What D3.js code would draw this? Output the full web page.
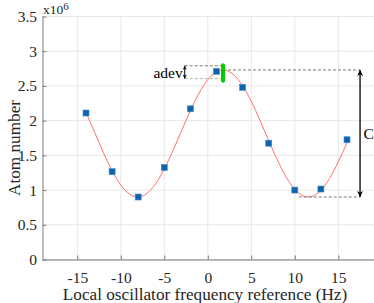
<!DOCTYPE html>
<html><head><meta charset="utf-8">
<script src="https://cdn.jsdelivr.net/npm/d3@7"></script>
<style>
body{margin:0;background:#fff;}
svg{display:block;font-family:"Liberation Serif","Times New Roman",serif;}
</style></head>
<body><svg id="c" width="374" height="303"></svg>
<script>
// measured points (Hz, atom number in units of 1e6)
const freqs = [-14, -11, -8, -5, -2, 1, 4, 7, 10, 13, 16];
const atoms = [2.11, 1.265, 0.90, 1.325, 2.17, 2.71, 2.48, 1.675, 1.0, 1.015, 1.725];
// fitted fringe curve
const fitX = [-14,-13,-12,-11,-10,-9,-8,-7,-6,-5,-4,-3,-2,-1,0,1,1.75,2,3,4,5,6,7,8,9,10,11,11.6,12,13,14,15,16];
const fitY = [2.118,1.830,1.540,1.280,1.073,0.942,0.900,0.951,1.090,1.303,1.569,1.859,2.145,2.397,2.590,2.704,2.730,2.727,2.658,2.502,2.277,2.004,1.712,1.432,1.189,1.011,0.914,0.900,0.909,0.996,1.168,1.407,1.683];
const xTicks = [-15, -10, -5, 0, 5, 10, 15];
const yTicks = [0, 0.5, 1, 1.5, 2, 2.5, 3, 3.5];
// annotations (data coordinates)
const peakX = 1.75, peakY = 2.73, adevHi = 2.79, adevLo = 2.605, adevArrowX = -2.65;
const troughX = 10.45, troughY = 0.90, cArrowX = 17.5;

const svg = d3.select("#c");
const x = d3.scaleLinear().domain([-19, 19]).range([42.5, 373.1]);
const y = d3.scaleLinear().domain([0, 3.5]).range([259.5, 16.5]);
const L = 42.5, R = 374, T = 16.5, B = 259.5;
const FS = 15.5, LFS = 17.2;

// grid
svg.append("g").selectAll("line").data(xTicks).join("line")
  .attr("x1", d => x(d)).attr("x2", d => x(d)).attr("y1", T).attr("y2", B)
  .attr("stroke", "#e8e8e8").attr("stroke-width", 1);
svg.append("g").selectAll("line").data(yTicks).join("line")
  .attr("x1", L).attr("x2", R).attr("y1", d => y(d)).attr("y2", d => y(d))
  .attr("stroke", "#e8e8e8").attr("stroke-width", 1);

// axes
const xAxis = d3.axisBottom(x).tickValues(xTicks).tickSizeInner(-4).tickSizeOuter(0).tickPadding(12.5)
  .tickFormat(d => d < 0 ? "-" + Math.abs(d) : d);
const gx = svg.append("g").attr("transform", `translate(0,${B})`).call(xAxis);
const yAxis = d3.axisLeft(y).tickValues(yTicks).tickSizeInner(-4).tickSizeOuter(0).tickPadding(5.5)
  .tickFormat(d => d);
const gy = svg.append("g").attr("transform", `translate(${L},0)`).call(yAxis);
[gx, gy].forEach(g => {
  g.select(".domain").attr("stroke", "#7a7a7a");
  g.selectAll(".tick line").attr("stroke", "#7a7a7a");
  g.selectAll("text").attr("font-family", "Liberation Serif, serif").attr("font-size", FS).attr("fill", "#262626");
});
gx.select(".domain").attr("d", `M${L},0.5H${R}`);
gy.select(".domain").attr("d", `M0.5,${B}V${T}`);

// exponent label
const ex = svg.append("text").attr("x", L + 0.5).attr("y", 13.5).attr("font-size", 13.5).attr("fill", "#262626");
ex.append("tspan").text("x10");
ex.append("tspan").attr("dy", -4).attr("font-size", 11).text("6");

// axis labels
svg.append("text").attr("x", 205).attr("y", 299.5).attr("text-anchor", "middle")
  .attr("font-size", LFS).attr("fill", "#262626").text("Local oscillator frequency reference (Hz)");
svg.append("text").attr("transform", "translate(19.5,148) rotate(-90)").attr("text-anchor", "middle")
  .attr("font-size", LFS).attr("fill", "#262626").text("Atom number");

// fit curve
const pts = fitX.map((d, i) => [d, fitY[i]]);
svg.append("path").datum(pts)
  .attr("d", d3.line().x(d => x(d[0])).y(d => y(d[1])).curve(d3.curveMonotoneX))
  .attr("fill", "none").attr("stroke", "#ff6f6f").attr("stroke-width", 1);

// dashed guides
const dash = (x1, y1, x2, y2, col) => svg.append("line")
  .attr("x1", x(x1)).attr("y1", y(y1)).attr("x2", x(x2)).attr("y2", y(y2))
  .attr("stroke", col).attr("stroke-width", 1).attr("stroke-dasharray", "3,2");
dash(adevArrowX, adevHi, peakX, adevHi, "#7a7a7a");
dash(adevArrowX, adevLo, peakX, adevLo, "#b0b0b0");
dash(peakX, peakY, cArrowX, peakY, "#7a7a7a");
dash(troughX, troughY, cArrowX, troughY, "#7a7a7a");

// arrows
const defs = svg.append("defs");
const mk = (id, w, h) => defs.append("marker").attr("id", id).attr("viewBox", "0 0 10 10")
  .attr("refX", 10).attr("refY", 5).attr("markerWidth", w).attr("markerHeight", h)
  .attr("markerUnits", "userSpaceOnUse").attr("orient", "auto-start-reverse")
  .append("path").attr("d", "M0,0L10,5L0,10L3,5Z").attr("fill", "#000");
mk("ah", 9, 6); mk("ahs", 5, 4);
svg.append("line").attr("x1", x(cArrowX)).attr("x2", x(cArrowX))
  .attr("y1", y(peakY)).attr("y2", y(troughY))
  .attr("stroke", "#000").attr("stroke-width", 1.3)
  .attr("marker-start", "url(#ah)").attr("marker-end", "url(#ah)");
svg.append("line").attr("x1", x(adevArrowX)).attr("x2", x(adevArrowX))
  .attr("y1", y(adevHi)).attr("y2", y(adevLo))
  .attr("stroke", "#000").attr("stroke-width", 1)
  .attr("marker-start", "url(#ahs)").attr("marker-end", "url(#ahs)");

// labels
svg.append("text").attr("x", x(adevArrowX) - 2).attr("y", 78).attr("text-anchor", "end")
  .attr("font-size", FS).attr("fill", "#000").text("adev");
svg.append("text").attr("x", x(cArrowX) + 3.5).attr("y", 139)
  .attr("font-size", FS).attr("fill", "#000").text("C");

// markers
svg.append("g").selectAll("rect").data(freqs).join("rect")
  .attr("x", d => x(d) - 3).attr("y", (d, i) => y(atoms[i]) - 3)
  .attr("width", 6).attr("height", 6)
  .attr("fill", "#0f62ad").attr("stroke", "#3b8fd6").attr("stroke-width", 0.6);

// green peak marker
svg.append("line").attr("x1", x(peakX)).attr("x2", x(peakX))
  .attr("y1", y(adevHi) - 0.5).attr("y2", y(adevLo) + 2)
  .attr("stroke", "#00cc00").attr("stroke-width", 4).attr("stroke-linecap", "round");
</script></body></html>
